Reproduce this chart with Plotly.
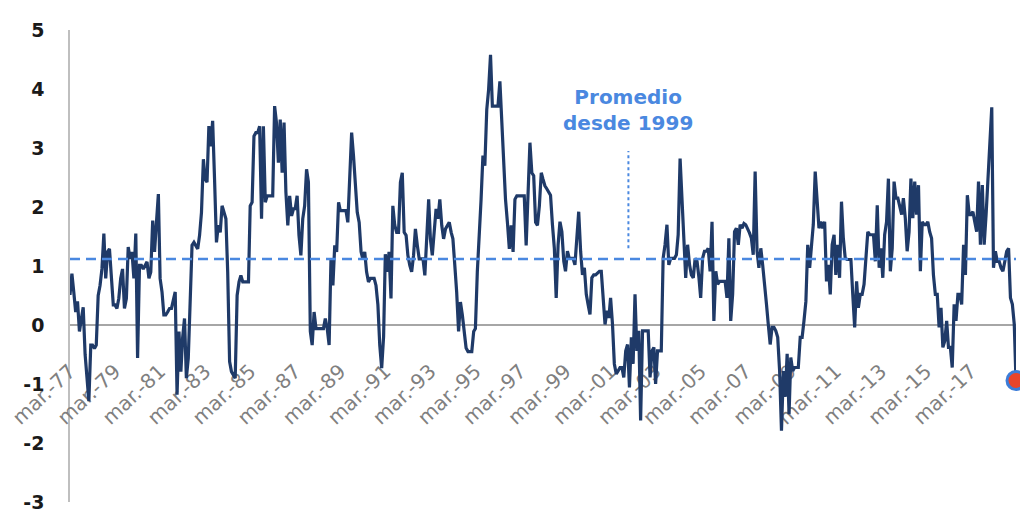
import plotly.graph_objects as go
import pandas as pd

# Monthly series, starting March 1977
start_month = "1977-03-01"
v1977 = [0.51, 0.87, 0.56, 0.22, 0.4, -0.11, 0.1, 0.3, -0.5, -0.9]
v1978 = [-1.29, -0.34, -0.34, -0.4, -0.34, 0.5, 0.67, 0.95, 1.55, 0.79, 1.24, 1.29]
v1979 = [0.79, 0.34, 0.34, 0.28, 0.45, 0.79, 0.95, 0.28, 0.45, 1.32, 1.12, 1.24]
v1980 = [0.79, 1.55, -0.56, 1.01, 1.01, 0.95, 1.01, 1.07, 0.79, 0.9, 1.77, 1.24]
v1981 = [1.74, 2.22, 0.79, 0.56, 0.17, 0.17, 0.22, 0.28, 0.28, 0.45, 0.56, -1.18]
v1982 = [-0.11, -0.79, -0.22, 0.11, -0.9, -0.56, 0.22, 1.35, 1.4, 1.35, 1.29, 1.52]
v1983 = [1.91, 2.81, 2.47, 2.42, 3.37, 3.03, 3.46, 2.47, 1.4, 1.69, 1.57, 2.02]
v1984 = [1.91, 1.8, 0.9, -0.62, -0.79, -0.84, -0.9, 0.5, 0.73, 0.84, 0.73, 0.73]
v1985 = [0.73, 0.73, 2.02, 2.08, 3.2, 3.26, 3.26, 3.37, 1.8, 3.37, 2.08, 2.19]
v1986 = [2.19, 2.19, 2.19, 3.71, 3.43, 2.75, 3.48, 2.58, 3.43, 2.25, 1.69, 2.19]
v1987 = [1.85, 1.97, 1.97, 2.19, 1.52, 1.18, 1.8, 2.02, 2.64, 2.42, -0.11, -0.34]
v1988 = [0.22, -0.06, -0.06, -0.06, -0.06, -0.06, 0.11, -0.06, -0.34, 1.12, 0.67, 1.35]
v1989 = [1.24, 2.08, 1.94, 1.94, 1.94, 1.94, 1.74, 2.47, 3.26, 2.87, 2.36, 1.91]
v1990 = [1.74, 1.24, 1.12, 1.24, 0.9, 0.73, 0.79, 0.79, 0.79, 0.67, 0.34, -0.34]
v1991 = [-0.73, -0.2, 1.2, 0.9, 1.24, 0.45, 2.02, 1.69, 1.57, 1.57, 2.42, 2.58]
v1992 = [1.57, 1.52, 1.18, 1.01, 0.9, 1.18, 1.63, 1.35, 1.12, 1.12, 1.12, 0.84]
v1993 = [1.57, 2.13, 1.46, 1.18, 1.57, 1.97, 1.8, 2.13, 1.69, 1.46, 1.63, 1.69]
v1994 = [1.74, 1.57, 1.46, 1.01, 0.56, -0.11, 0.39, 0.17, -0.11, -0.39, -0.45, -0.45]
v1995 = [-0.45, -0.11, -0.06, 0.9, 1.46, 2.13, 2.87, 2.7, 3.65, 3.99, 4.58, 3.71]
v1996 = [3.71, 3.71, 3.71, 4.13, 3.43, 2.92, 2.13, 1.74, 1.29, 1.69, 1.24, 2.13]
v1997 = [2.19, 2.19, 2.19, 2.19, 2.19, 1.35, 2.36, 3.09, 2.58, 2.53, 1.74, 1.69]
v1998 = [2.02, 2.58, 2.47, 2.36, 2.31, 2.26, 2.2, 1.7, 1.3, 0.46, 1.36, 1.75]
v1999 = [1.58, 1.08, 0.91, 1.25, 1.13, 1.13, 1.13, 1.02, 1.47, 1.92, 1.25, 0.85]
v2000 = [0.97, 0.52, 0.35, 0.18, 0.8, 0.85, 0.85, 0.88, 0.91, 0.91, 0.4, 0.01]
v2001 = [0.24, 0.12, 0.46, 0.01, -0.66, -0.83, -0.78, -0.72, -0.72, -0.89, -0.44, -0.33]
v2002 = [-1.06, -0.21, -0.66, 0.52, -0.44, -0.1, -1.62, -0.1, -0.1, -0.1, -0.1, -0.89]
v2003 = [-0.44, -0.38, -1.0, -0.44, -0.44, -0.44, 1.13, 1.36, 1.7, 1.02, 1.13, 1.13]
v2004 = [1.13, 1.19, 1.53, 2.82, 2.09, 1.53, 0.8, 1.36, 1.02, 0.85, 0.8, 1.13]
v2005 = [1.08, 0.8, 0.46, 1.13, 1.25, 1.25, 1.3, 0.91, 1.75, 0.07, 0.91, 0.69]
v2006 = [0.74, 0.74, 0.74, 0.74, 0.46, 1.47, 0.07, 0.52, 1.58, 1.64, 1.36, 1.7]
v2007 = [1.64, 1.72, 1.7, 1.64, 1.56, 1.47, 1.19, 2.6, 1.25, 0.97, 1.3, 1.02]
v2008 = [0.74, 0.35, 0.01, -0.33, -0.04, -0.04, -0.1, -0.21, -0.78, -1.79, -0.78, -1.22]
v2009 = [-0.49, -1.51, -0.55, -0.78, -0.72, -0.72, -0.72, -0.21, -0.21, 0.07, 0.4, 1.36]
v2010 = [0.97, 1.36, 1.7, 2.6, 2.2, 1.64, 1.75, 1.64, 1.75, 0.74, 1.02, 0.52]
v2011 = [1.36, 1.53, 0.85, 1.36, 0.8, 2.09, 1.47, 1.13, 1.11, 1.11, 1.11, 0.52]
v2012 = [-0.04, 0.74, 0.29, 0.52, 0.52, 0.69, 1.19, 1.58, 1.53, 1.53, 1.53, 1.08]
v2013 = [2.03, 0.97, 1.3, 0.8, 1.53, 1.75, 2.48, 0.91, 1.3, 2.43, 2.15, 2.15]
v2014 = [2.03, 1.87, 2.15, 1.81, 1.25, 1.58, 2.48, 1.81, 2.43, 1.87, 2.37, 0.91]
v2015 = [1.75, 1.7, 1.7, 1.75, 1.58, 1.47, 0.85, 0.52, 0.52, -0.04, 0.29, -0.38]
v2016 = [-0.27, 0.07, -0.38, -0.38, -0.72, 0.35, 0.07, 0.52, 0.52, 0.35, 1.36, 0.85]
v2017 = [2.2, 1.87, 1.87, 1.92, 1.75, 1.58, 2.43, 1.36, 2.37, 1.36, 1.87, 2.48]
v2018 = [3.27, 3.69, 0.97, 1.25, 1.08, 1.08, 0.97, 0.91, 1.08, 1.25, 1.3, 0.46]
v2019 = [0.35, 0.01, -0.94]

yearly = [v1977, v1978, v1979, v1980, v1981, v1982, v1983, v1984, v1985, v1986,
          v1987, v1988, v1989, v1990, v1991, v1992, v1993, v1994, v1995, v1996,
          v1997, v1998, v1999, v2000, v2001, v2002, v2003, v2004, v2005, v2006,
          v2007, v2008, v2009, v2010, v2011, v2012, v2013, v2014, v2015, v2016,
          v2017, v2018, v2019]
values = [v for year in yearly for v in year]
dates = pd.date_range(start_month, periods=len(values), freq="MS")

promedio_desde_1999 = 1.12
annot_date = "2001-12-15"
annot_text = "Promedio<br>desde 1999"
annot_y = 3.65
pointer_y = [1.3, 2.95]

tick_dates = ["1977-03-01", "1979-03-01", "1981-03-01", "1983-03-01", "1985-03-01",
              "1987-03-01", "1989-03-01", "1991-03-01", "1993-03-01", "1995-03-01",
              "1997-03-01", "1999-03-01", "2001-03-01", "2003-03-01", "2005-03-01",
              "2007-03-01", "2009-03-01", "2011-03-01", "2013-03-01", "2015-03-01",
              "2017-03-01"]
tick_labels = ["mar.-77", "mar.-79", "mar.-81", "mar.-83", "mar.-85", "mar.-87",
               "mar.-89", "mar.-91", "mar.-93", "mar.-95", "mar.-97", "mar.-99",
               "mar.-01", "mar.-03", "mar.-05", "mar.-07", "mar.-09", "mar.-11",
               "mar.-13", "mar.-15", "mar.-17"]
y_ticks = [-3, -2, -1, 0, 1, 2, 3, 4, 5]
y_tick_labels = ["-3", "-2", "-1", "0", "1", "2", "3", "4", "5"]

navy = "#1F3A68"
blue = "#4A88E0"

fig = go.Figure()
fig.add_trace(go.Scatter(x=dates, y=values, mode="lines",
                         line=dict(color=navy, width=3.2), hoverinfo="skip"))

fig.add_hline(y=promedio_desde_1999,
              line=dict(color=blue, width=2.5, dash="10px,6px"),
              layer="above")

fig.add_shape(type="line", xref="x", yref="y", x0=annot_date, x1=annot_date,
              y0=pointer_y[0], y1=pointer_y[1],
              line=dict(color=blue, width=2, dash="dot"))
fig.add_annotation(x=annot_date, y=annot_y, xref="x", yref="y", text=annot_text,
                   showarrow=False, align="center",
                   font=dict(family="DejaVu Sans", size=20, color=blue, weight="bold"))

fig.add_trace(go.Scatter(x=[dates[-1]], y=[values[-1]], mode="markers",
                         marker=dict(size=18, color="#E8452C",
                                     line=dict(color="#3C7DD9", width=3)),
                         cliponaxis=False, hoverinfo="skip"))

fig.update_layout(
    width=1020, height=514,
    margin=dict(l=70, r=4, t=30, b=12),
    paper_bgcolor="white", plot_bgcolor="white",
    showlegend=False,
    xaxis=dict(type="date", range=[dates[0], dates[-1]],
               anchor="free", position=0.375, automargin=False,
               showline=True, linecolor="#A6A6A6", linewidth=1.5,
               showgrid=False, zeroline=False,
               tickmode="array", tickvals=tick_dates, ticktext=tick_labels,
               tickangle=-43, ticks="outside", ticklen=26,
               tickcolor="rgba(0,0,0,0)", ticklabeloverflow="allow",
               tickfont=dict(family="DejaVu Sans", size=20, color="#808080"),
               layer="below traces"),
    yaxis=dict(range=[-3, 5], tickmode="array", tickvals=y_ticks,
               ticktext=y_tick_labels, ticklabeloverflow="allow",
               automargin=False,
               showline=True, linecolor="#BFBFBF", linewidth=1.5,
               showgrid=False, zeroline=False,
               ticks="outside", ticklen=20, tickcolor="rgba(0,0,0,0)",
               tickfont=dict(family="DejaVu Sans", size=19, color="#1A1A1A",
                             weight="bold"),
               layer="below traces"),
)

fig.write_html("out.html",
               config={"displayModeBar": False},
               post_script="document.body.style.margin='0';"
                           "document.body.style.overflow='hidden';")
